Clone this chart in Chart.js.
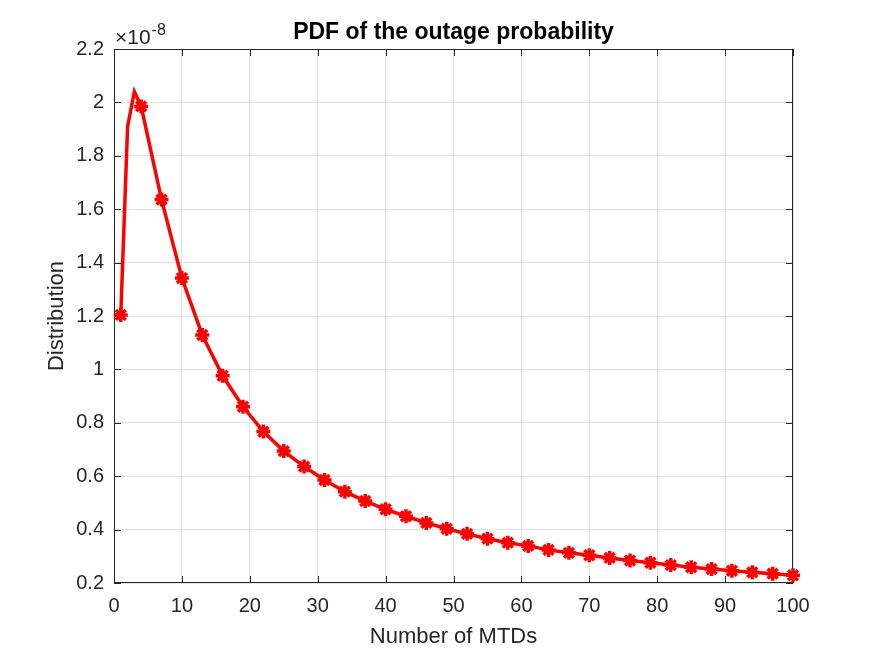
<!DOCTYPE html>
<html>
<head>
<meta charset="utf-8">
<script src="https://cdn.jsdelivr.net/npm/chart.js"></script>
<style>
  html, body { margin: 0; padding: 0; background: #fff; }
  #wrap { width: 875px; height: 657px; }
</style>
</head>
<body>
<div id="wrap"><canvas id="pdf-chart" width="875" height="657"></canvas></div>
<script>
// ── data (values in units of 1e-8) ──────────────────────────
const lineX = [1, 2, 3, 4, 7, 10, 13, 16, 19, 22, 25, 28, 31, 34, 37, 40, 43, 46, 49,
  52, 55, 58, 61, 64, 67, 70, 73, 76, 79, 82, 85, 88, 91, 94, 97, 100];
const lineY = [1.204, 1.909, 2.04, 1.985, 1.636, 1.342, 1.129, 0.976, 0.860, 0.767, 0.694, 0.636,
  0.586, 0.542, 0.507, 0.476, 0.450, 0.425, 0.403, 0.384, 0.366, 0.351, 0.339, 0.324, 0.313,
  0.304, 0.294, 0.284, 0.276, 0.267, 0.259, 0.252, 0.246, 0.240, 0.235, 0.229];
// markers sit on every third sample: 1, 4, 7, ... 100
const markerX = lineX.filter(x => (x - 1) % 3 === 0);
const markerY = markerX.map(x => lineY[lineX.indexOf(x)]);

const xTicks = [0, 10, 20, 30, 40, 50, 60, 70, 80, 90, 100];
const yTicks = [0.2, 0.4, 0.6, 0.8, 1, 1.2, 1.4, 1.6, 1.8, 2, 2.2];

const TEXT = '#262626';
const FONT = '"Liberation Sans", Arial, Helvetica, sans-serif';

const toPts = (xs, ys) => xs.map((x, i) => ({ x: x, y: ys[i] }));

// ── MATLAB-ish frame, title, labels, exponent ───────────────
const matlabFrame = {
  id: 'matlabFrame',
  beforeDatasetsDraw(chart) {
    const { ctx, chartArea: a, scales } = chart;
    ctx.save();
    ctx.strokeStyle = TEXT;
    ctx.lineWidth = 1;
    ctx.strokeRect(a.left + 0.5, a.top + 0.5, a.right - a.left - 1, a.bottom - a.top - 1);
    const tl = 7;
    ctx.beginPath();
    xTicks.forEach(v => {
      const px = Math.round(scales.x.getPixelForValue(v)) + 0.5;
      ctx.moveTo(px, a.bottom); ctx.lineTo(px, a.bottom - tl);
      ctx.moveTo(px, a.top); ctx.lineTo(px, a.top + tl);
    });
    yTicks.forEach(v => {
      const py = Math.round(scales.y.getPixelForValue(v)) + 0.5;
      ctx.moveTo(a.left, py); ctx.lineTo(a.left + tl, py);
      ctx.moveTo(a.right, py); ctx.lineTo(a.right - tl, py);
    });
    ctx.stroke();
    ctx.restore();
  },
  afterDraw(chart) {
    const { ctx, chartArea: a } = chart;
    ctx.save();
    ctx.fillStyle = '#000';
    ctx.textAlign = 'center';
    ctx.textBaseline = 'alphabetic';
    ctx.font = 'bold 23px ' + FONT;
    ctx.fillText('PDF of the outage probability', (a.left + a.right) / 2, 39);

    ctx.fillStyle = TEXT;
    ctx.font = '22px ' + FONT;
    ctx.fillText('Number of MTDs', (a.left + a.right) / 2, 643);

    ctx.save();
    ctx.translate(63, (a.top + a.bottom) / 2);
    ctx.rotate(-Math.PI / 2);
    ctx.fillText('Distribution', 0, 0);
    ctx.restore();

    // exponent of the y axis
    ctx.textAlign = 'left';
    ctx.font = '21px ' + FONT;
    ctx.fillText('\u00d710', a.left + 1, 44);
    const w = ctx.measureText('\u00d710').width;
    ctx.font = '16px ' + FONT;
    ctx.fillText('-8', a.left + 2 + w, 35);
    ctx.restore();
  }
};

const ctx = document.getElementById('pdf-chart').getContext('2d');

new Chart(ctx, {
  type: 'line',
  data: {
    datasets: [{
      data: toPts(lineX, lineY),
      borderColor: '#ff0000',
      borderWidth: 3.5,
      pointRadius: 0,
      tension: 0,
      fill: false,
      clip: false
    }, {
      data: toPts(markerX, markerY),
      showLine: false,
      pointStyle: 'star',
      pointRadius: 7,
      pointBorderWidth: 3.5,
      pointBorderColor: '#ff0000',
      pointBackgroundColor: '#ff0000',
      clip: false
    }]
  },
  options: {
    responsive: false,
    animation: false,
    devicePixelRatio: 1,
    layout: { padding: { top: 49, right: 82, left: 0, bottom: 0 } },
    plugins: {
      legend: { display: false },
      tooltip: { enabled: false },
      title: { display: false }
    },
    scales: {
      x: {
        type: 'linear',
        min: 0,
        max: 100,
        afterFit: s => { s.height = 74; },
        afterBuildTicks: s => { s.ticks = xTicks.map(v => ({ value: v })); },
        ticks: {
          color: TEXT,
          font: { family: FONT, size: 20 },
          padding: 11,
          maxRotation: 0,
          autoSkip: false,
          callback: v => String(v)
        },
        grid: { color: '#e2e2e2', lineWidth: 1, drawTicks: false },
        border: { display: false }
      },
      y: {
        type: 'linear',
        min: 0.2,
        max: 2.2,
        afterFit: s => { s.width = 114; },
        afterBuildTicks: s => { s.ticks = yTicks.map(v => ({ value: v })); },
        ticks: {
          color: TEXT,
          font: { family: FONT, size: 20 },
          padding: 10,
          autoSkip: false,
          callback: v => String(Number(v.toFixed(1)))
        },
        grid: { color: '#e2e2e2', lineWidth: 1, drawTicks: false },
        border: { display: false }
      }
    }
  },
  plugins: [matlabFrame]
});
</script>
</body>
</html>
